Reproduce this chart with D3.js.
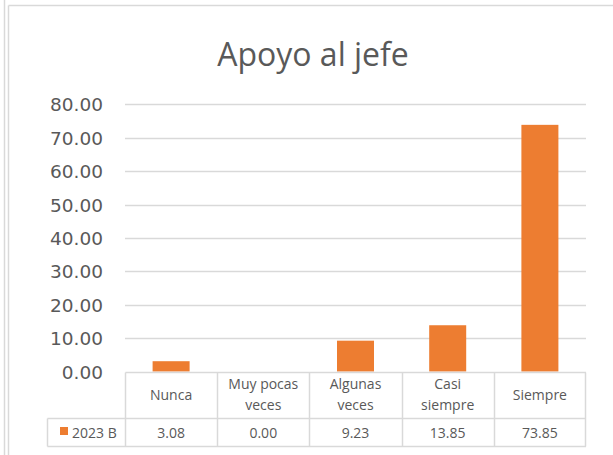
<!DOCTYPE html>
<html>
<head>
<meta charset="utf-8">
<script src="https://cdn.jsdelivr.net/npm/d3@7"></script>
<style>
  body { margin: 0; background: #fff; }
  svg { display: block; }
  text { fill: #595959; }
</style>
</head>
<body>
<svg width="613" height="455"></svg>
<script>
var categories = ["Nunca", "Muy pocas veces", "Algunas veces", "Casi siempre", "Siempre"];
var categoryLines = [["Nunca"], ["Muy pocas", "veces"], ["Algunas", "veces"], ["Casi", "siempre"], ["Siempre"]];
var seriesName = "2023 B";
var values = [3.08, 0.00, 9.23, 13.85, 73.85];
var yTicks = [0, 10, 20, 30, 40, 50, 60, 70, 80];

var svg = d3.select("svg"),
    width = +svg.attr("width"),
    height = +svg.attr("height");

var grey = "#d9d9d9",
    orange = "#ed7d31";

// frame lines like the source sheet
svg.append("line").attr("x1", 4.5).attr("x2", 4.5).attr("y1", 0).attr("y2", height)
    .attr("stroke", grey).attr("stroke-width", 1.5);
svg.append("line").attr("x1", 8.5).attr("x2", 8.5).attr("y1", 5.5).attr("y2", height)
    .attr("stroke", grey).attr("stroke-width", 1.5);
svg.append("line").attr("x1", 8.5).attr("x2", width).attr("y1", 5.5).attr("y2", 5.5)
    .attr("stroke", grey).attr("stroke-width", 1.5);

svg.append("text")
    .attr("x", 313).attr("y", 66)
    .attr("text-anchor", "middle")
    .style("font-family", "'Open Sans', 'Noto Sans', sans-serif")
    .style("font-size", "32px")
    .text("Apoyo al jefe");

var x = d3.scaleBand().domain(categories).range([125, 586]).paddingInner(0).paddingOuter(0);
var y = d3.scaleLinear().domain([0, 80]).range([371.5, 104.3]);

// gridlines
svg.append("g")
    .selectAll("line")
    .data(yTicks.filter(function (d) { return d > 0; }))
    .enter().append("line")
    .attr("x1", 125).attr("x2", 586)
    .attr("y1", function (d) { return Math.round(y(d)) + 0.5; })
    .attr("y2", function (d) { return Math.round(y(d)) + 0.5; })
    .attr("stroke", grey).attr("stroke-width", 1.3);

// y axis labels
var yAxis = d3.axisLeft(y).tickValues(yTicks).tickFormat(d3.format(".2f")).tickSize(0).tickPadding(0);
var yg = svg.append("g").attr("transform", "translate(103,0)").call(yAxis);
yg.select(".domain").remove();
yg.selectAll("text")
    .attr("dy", "0.36em")
    .style("font-family", "'DejaVu Sans', sans-serif")
    .style("font-size", "18.5px")
    .style("fill", "#595959");

// bars
var bw = 37;
svg.append("g")
    .selectAll("rect")
    .data(values)
    .enter().append("rect")
    .attr("x", function (d, i) { return x(categories[i]) + x.bandwidth() / 2 - bw / 2; })
    .attr("width", bw)
    .attr("y", function (d) { return y(d); })
    .attr("height", function (d) { return y(0) - y(d); })
    .attr("fill", orange);

// data table
var rowTop = Math.round(y(0)) + 0.5, rowMid = 418.5, rowBot = 446.5, legendLeft = 47.5;
var t = svg.append("g").attr("stroke", grey).attr("stroke-width", 1.5);
t.append("line").attr("x1", 125.5).attr("x2", 586).attr("y1", rowTop).attr("y2", rowTop);
t.append("line").attr("x1", legendLeft).attr("x2", 586).attr("y1", rowMid).attr("y2", rowMid);
t.append("line").attr("x1", legendLeft).attr("x2", 586).attr("y1", rowBot).attr("y2", rowBot);
t.append("line").attr("x1", legendLeft).attr("x2", legendLeft).attr("y1", rowMid).attr("y2", rowBot);
t.selectAll("line.col")
    .data(categories)
    .enter().append("line")
    .attr("x1", function (d) { return Math.round(x(d)) + 0.5; })
    .attr("x2", function (d) { return Math.round(x(d)) + 0.5; })
    .attr("y1", rowTop).attr("y2", rowBot);
t.append("line").attr("x1", 585.5).attr("x2", 585.5).attr("y1", rowTop).attr("y2", rowBot);

var catText = svg.append("g")
    .selectAll("text")
    .data(categoryLines)
    .enter().append("text")
    .attr("text-anchor", "middle")
    .style("font-family", "'Open Sans', 'Noto Sans', sans-serif")
    .style("font-size", "14px")
    .attr("x", function (d, i) { return x(categories[i]) + x.bandwidth() / 2; })
    .attr("y", function (d) { return d.length === 1 ? 400 : 389; });
catText.selectAll("tspan")
    .data(function (d) { return d; })
    .enter().append("tspan")
    .attr("x", function () { return d3.select(this.parentNode).attr("x"); })
    .attr("dy", function (d, i) { return i === 0 ? 0 : 21; })
    .text(function (d) { return d; });

svg.append("g")
    .selectAll("text")
    .data(values)
    .enter().append("text")
    .attr("text-anchor", "middle")
    .style("font-family", "'Open Sans', 'Noto Sans', sans-serif")
    .style("font-size", "14px")
    .attr("x", function (d, i) { return x(categories[i]) + x.bandwidth() / 2; })
    .attr("y", 438)
    .text(function (d) { return d3.format(".2f")(d); });

svg.append("rect").attr("x", 60).attr("y", 427).attr("width", 8).attr("height", 8).attr("fill", orange);
svg.append("text")
    .attr("x", 72).attr("y", 438)
    .style("font-family", "'Open Sans', 'Noto Sans', sans-serif")
    .style("font-size", "14px")
    .text(seriesName);
</script>
</body>
</html>
